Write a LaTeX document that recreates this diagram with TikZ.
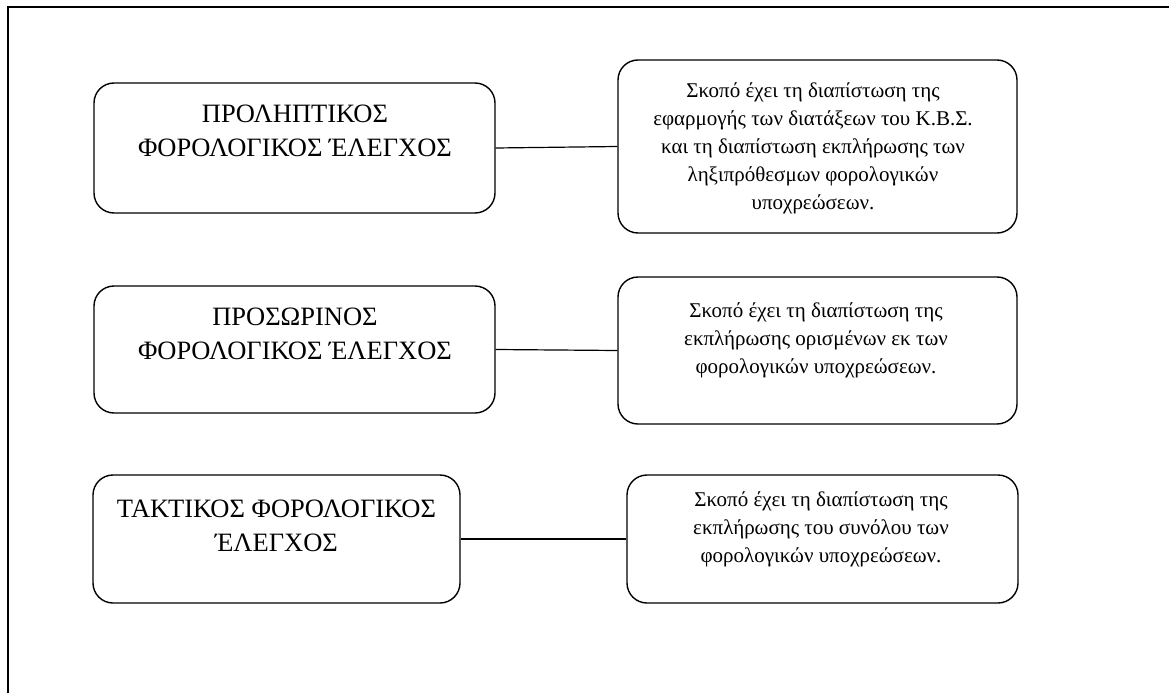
\documentclass[tikz,border=0pt]{standalone}
\usepackage{fontspec}
\setmainfont{Liberation Serif}
\begin{document}
\begin{tikzpicture}[x=1pt,y=-1pt,
  rbox/.style={draw=black, line width=1.4pt, rounded corners=20pt, inner sep=0pt},
  ltext/.style={anchor=north, align=center, inner sep=0pt, font=\fontsize{26.5}{34}\selectfont},
  rtext/.style={anchor=north, align=center, inner sep=0pt, font=\fontsize{21}{28}\selectfont},
  conn/.style={draw=black, line width=1.2pt}]
\useasboundingbox (0,0) rectangle (1169,693);
% frame
\draw[line width=2pt] (7.5,693) -- (7.5,7) -- (1169,7);
% left boxes
\node[rbox, minimum width=401, minimum height=130] (L1) at (294.5,148) {};
\node[rbox, minimum width=401, minimum height=127] (L2) at (294.5,349.5) {};
\node[rbox, minimum width=367, minimum height=128] (L3) at (276.5,539) {};
% right boxes
\node[rbox, minimum width=399, minimum height=173] (R1) at (817.5,146.5) {};
\node[rbox, minimum width=399, minimum height=147] (R2) at (817.5,350.5) {};
\node[rbox, minimum width=391, minimum height=128] (R3) at (822.5,539) {};
% texts
\node[ltext] (T1) at (295,105) {ΠΡΟΛΗΠΤΙΚΟΣ\\ΦΟΡΟΛΟΓΙΚΟΣ ΈΛΕΓΧΟΣ};
\node[ltext] (T2) at (295,308) {ΠΡΟΣΩΡΙΝΟΣ\\ΦΟΡΟΛΟΓΙΚΟΣ ΈΛΕΓΧΟΣ};
\node[ltext] (T3) at (276.5,500) {ΤΑΚΤΙΚΟΣ ΦΟΡΟΛΟΓΙΚΟΣ\\ΈΛΕΓΧΟΣ};
\node[rtext] (S1) at (813,82) {Σκοπό έχει τη διαπίστωση της\\εφαρμογής των διατάξεων του Κ.Β.Σ.\\και τη διαπίστωση εκπλήρωσης των\\ληξιπρόθεσμων φορολογικών\\υποχρεώσεων.};
\node[rtext] (S2) at (816,302) {Σκοπό έχει τη διαπίστωση της\\εκπλήρωσης ορισμένων εκ των\\φορολογικών υποχρεώσεων.};
\node[rtext] (S3) at (821,491) {Σκοπό έχει τη διαπίστωση της\\εκπλήρωσης του συνόλου των\\φορολογικών υποχρεώσεων.};
% connectors
\draw[conn] (L1.east) -- (R1.west);
\draw[conn] (L2.east) -- (R2.west);
\draw[conn] (L3.east) -- (R3.west);
\end{tikzpicture}
\end{document}
